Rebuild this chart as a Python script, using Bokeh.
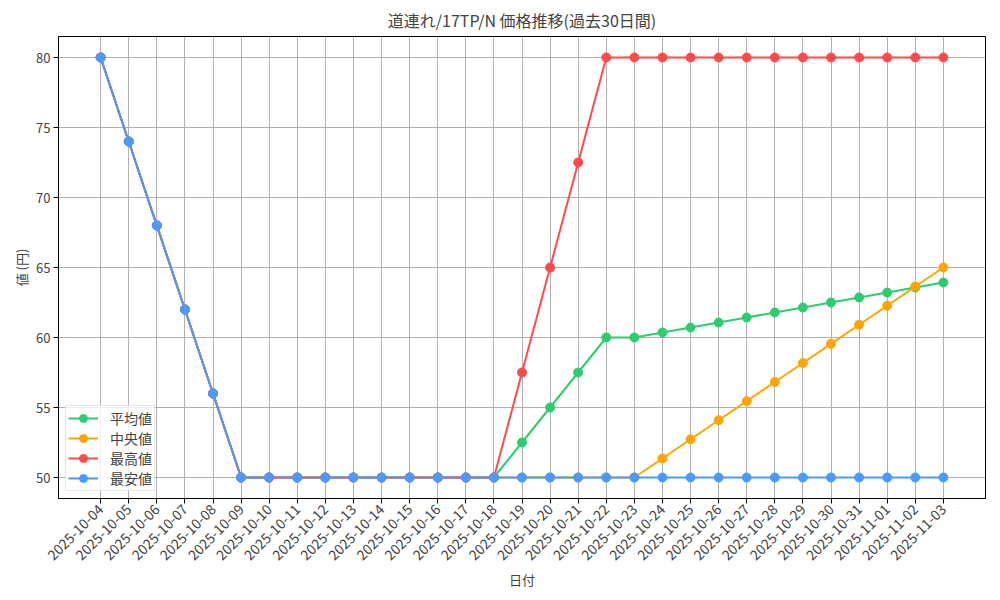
from math import pi

from bokeh.plotting import figure
from bokeh.models import FixedTicker, Legend
from bokeh.embed import file_html
from bokeh.resources import INLINE

FONT = "Noto Sans CJK JP"

dates = ["2025-10-%02d" % d for d in range(4, 32)] + ["2025-11-01", "2025-11-02", "2025-11-03"]

avg_vals = [80, 74, 68, 62, 56, 50, 50, 50, 50, 50, 50, 50, 50, 50, 50,
            52.5, 55, 57.5, 60, 60, 60.36, 60.71, 61.07, 61.43, 61.79,
            62.14, 62.5, 62.86, 63.21, 63.57, 63.93]
median_vals = [80, 74, 68, 62, 56, 50, 50, 50, 50, 50, 50, 50, 50, 50, 50,
               50, 50, 50, 50, 50, 51.36, 52.73, 54.09, 55.45, 56.82,
               58.18, 59.55, 60.91, 62.27, 63.64, 65]
max_vals = [80, 74, 68, 62, 56, 50, 50, 50, 50, 50, 50, 50, 50, 50, 50,
            57.5, 65, 72.5, 80, 80, 80, 80, 80, 80, 80,
            80, 80, 80, 80, 80, 80]
min_vals = [80, 74, 68, 62, 56, 50, 50, 50, 50, 50, 50, 50, 50, 50, 50,
            50, 50, 50, 50, 50, 50, 50, 50, 50, 50,
            50, 50, 50, 50, 50, 50]

series = [
    ("平均値", avg_vals, "#2ecc71"),
    ("中央値", median_vals, "#ffa500"),
    ("最高値", max_vals, "#ff4b4b"),
    ("最安値", min_vals, "#4b9bff"),
]

xs = list(range(len(dates)))

# bokeh's page template has no body margin, so the canvas is the full window
p = figure(width=1000, height=600,
           x_range=(-1.5, len(dates) + 0.5),
           y_range=(48.5, 81.5),
           output_backend="svg", toolbar_location=None,
           min_border_left=58, min_border_right=15,
           min_border_top=30, min_border_bottom=102)

p.title.text = "道連れ/17TP/N 価格推移(過去30日間)"
p.title.align = "center"
p.title.text_font = FONT
p.title.text_font_size = "16px"
p.title.text_font_style = "normal"

p.outline_line_color = "black"
p.outline_line_width = 1

p.xaxis.ticker = FixedTicker(ticks=xs)
p.xaxis.major_label_overrides = {i: d for i, d in enumerate(dates)}
p.xaxis.major_label_orientation = pi / 4
p.xaxis.axis_label = "日付"
p.yaxis.ticker = FixedTicker(ticks=[50, 55, 60, 65, 70, 75, 80])
p.yaxis.axis_label = "値 (円)"

for ax in [p.xaxis[0], p.yaxis[0]]:
    ax.major_label_text_font = FONT
    ax.major_label_text_font_size = "13px"
    ax.axis_label_text_font = FONT
    ax.axis_label_text_font_size = "13px"
    ax.axis_label_text_font_style = "normal"
    ax.major_tick_in = 0
    ax.major_tick_out = 5
    ax.minor_tick_in = 0
    ax.minor_tick_out = 0
    ax.axis_line_color = "black"
    ax.major_label_standoff = 3
    ax.axis_label_standoff = 2
p.xaxis.major_label_text_font_size = "14px"

p.grid.grid_line_color = "#b0b0b0"
p.grid.grid_line_width = 1

items = []
for name, vals, color in series:
    r1 = p.line(xs, vals, line_color=color, line_width=2)
    r2 = p.scatter(xs, vals, size=9, fill_color=color, line_color=color)
    items.append((name, [r1, r2]))

legend = Legend(items=items, location="bottom_left")
legend.label_text_font = FONT
legend.label_text_font_size = "14px"
legend.border_line_color = "#cccccc"
legend.background_fill_alpha = 0.8
legend.margin = 7
legend.padding = 2
legend.spacing = 0
legend.glyph_width = 30
legend.glyph_height = 20
legend.label_height = 20
legend.label_standoff = 12
p.add_layout(legend)

open("out.html", "w").write(file_html(p, INLINE))
